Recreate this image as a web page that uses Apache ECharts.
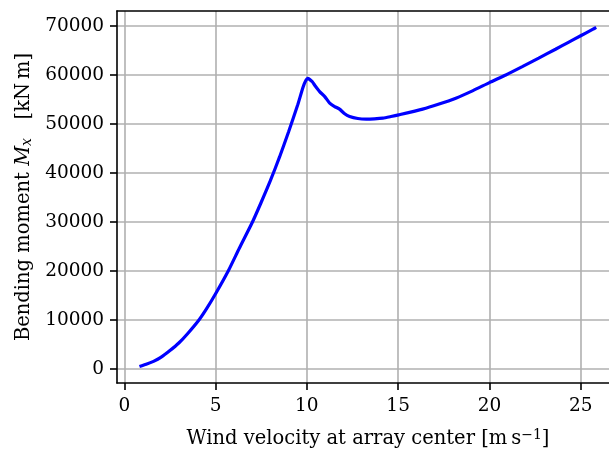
<!DOCTYPE html>
<html><head><meta charset="utf-8">
<script src="https://cdn.jsdelivr.net/npm/echarts@6/dist/echarts.min.js"></script>
<style>html,body{margin:0;padding:0;background:#fff}#c{width:609px;height:454px}</style>
</head><body><div id="c"></div>
<script>
const windSpeed = [0.83, 1.2, 1.6, 2.0, 2.5, 3.0, 3.5, 4.1, 4.5, 5.0, 5.7, 6.3, 7.0, 7.5, 8.0, 8.5, 9.0, 9.5, 9.79, 9.95, 10.05, 10.15, 10.3, 10.45, 10.70, 10.98, 11.25, 11.52, 11.79, 12.07, 12.34, 12.79, 13.25, 13.70, 14.16, 14.61, 15.03, 16.34, 17.2, 18.16, 19.1, 20.0, 20.9, 21.8, 22.7, 23.62, 24.3, 25.0, 25.65, 25.85];
const bendingMoment = [450, 900, 1500, 2300, 3700, 5300, 7300, 10000, 12200, 15300, 20000, 24600, 29800, 34000, 38400, 43200, 48400, 53900, 57500, 58900, 59300, 59100, 58600, 57800, 56600, 55580, 54240, 53550, 53020, 52060, 51510, 51100, 50980, 51040, 51180, 51510, 51850, 53020, 54000, 55260, 56800, 58440, 60000, 61700, 63450, 65250, 66600, 68000, 69300, 69700];
const xTicks = [0, 5, 10, 15, 20, 25];
const yTicks = [0, 10000, 20000, 30000, 40000, 50000, 60000, 70000];

const FONT = 'DejaVu Serif';
const chart = echarts.init(document.getElementById('c'), null, {renderer: 'canvas'});
const data = windSpeed.map((v, i) => [v, bendingMoment[i]]);
chart.setOption({
  backgroundColor: '#fff',
  animation: false,
  grid: {left: 117, top: 11, right: 0, bottom: 71, containLabel: false},
  xAxis: [{
    type: 'value', min: -0.4, max: 26.55, interval: 5,
    position: 'bottom',
    axisLine: {show: true, onZero: false, lineStyle: {color: '#000', width: 1.6}},
    axisTick: {show: true, length: 7, inside: false, lineStyle: {color: '#000', width: 1.6},
      customValues: xTicks},
    axisLabel: {show: true, margin: 14, color: '#000', fontFamily: FONT, fontSize: 18.5,
      customValues: xTicks, formatter: v => String(v)},
    splitLine: {show: true, lineStyle: {color: '#b0b0b0', width: 1.6}},
    name: 'Wind velocity at array center [m\u2009s{sup|\u22121}]',
    nameLocation: 'middle', nameGap: 45,
    nameTextStyle: {color: '#000', fontFamily: FONT, fontSize: 19.5, padding: [0, 0, 0, 10],
      rich: {sup: {fontFamily: FONT, fontSize: 14, verticalAlign: 'top', color: '#000', padding: [0,0,8,0]}}}
  }, {
    type: 'value', min: -0.4, max: 26.55, position: 'top',
    axisLine: {show: true, onZero: false, lineStyle: {color: '#000', width: 1.6}},
    axisTick: {show: false}, axisLabel: {show: false}, splitLine: {show: false}
  }],
  yAxis: [{
    type: 'value', min: -2920, max: 73060,
    axisLine: {show: true, onZero: false, lineStyle: {color: '#000', width: 1.6}},
    axisTick: {show: true, length: 7, lineStyle: {color: '#000', width: 1.6}, customValues: yTicks},
    axisLabel: {show: true, margin: 13, color: '#000', fontFamily: FONT, fontSize: 18.5,
      customValues: yTicks, formatter: v => String(v)},
    splitLine: {show: true, lineStyle: {color: '#b0b0b0', width: 1.6}},
    name: 'Bending moment {it|M}{sub|x}   [kN\u2009m]',
    nameLocation: 'middle', nameGap: 82, nameRotate: 90,
    nameTextStyle: {color: '#000', fontFamily: FONT, fontSize: 19.5,
      rich: {
        it: {fontFamily: FONT, fontSize: 19.5, fontStyle: 'italic', color: '#000'},
        sub: {fontFamily: FONT, fontSize: 14, fontStyle: 'italic', color: '#000', verticalAlign: 'bottom', padding: [6,0,0,0]}
      }}
  }],
  series: [{
    type: 'line', data: data, xAxisIndex: 0, yAxisIndex: 0,
    showSymbol: false, smooth: 0.2,
    lineStyle: {color: '#0000ff', width: 3.2},
    clip: true
  }]
});
</script></body></html>
